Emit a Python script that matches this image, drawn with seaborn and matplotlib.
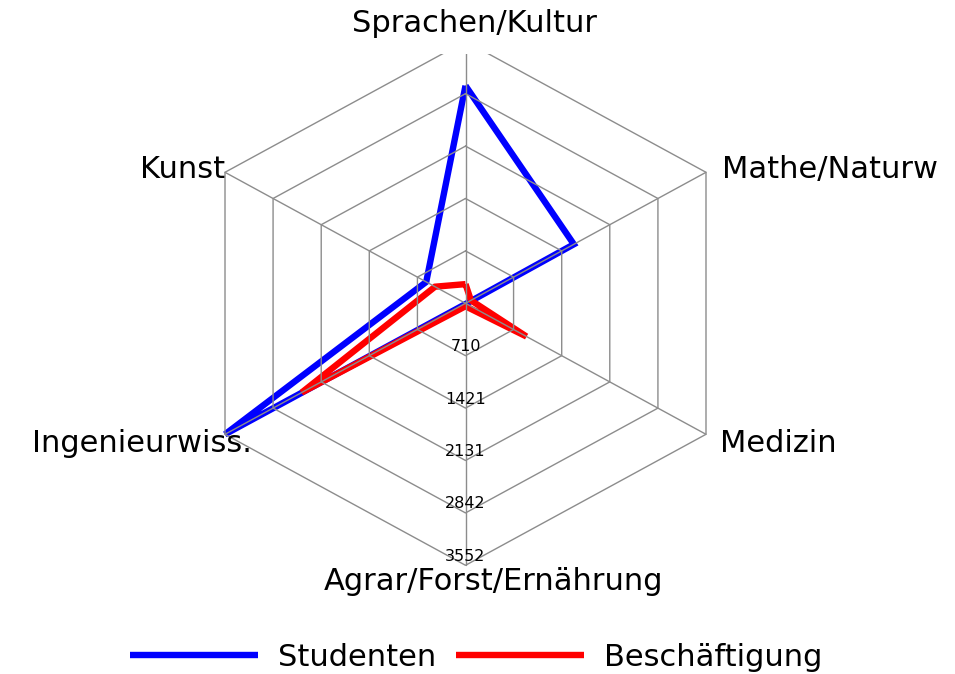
import numpy as np
import pandas as pd
import matplotlib
matplotlib.use("Agg")
import matplotlib.pyplot as plt
import seaborn as sns
from matplotlib.lines import Line2D

# ---- data ----
categories = ["Sprachen/Kultur", "Mathe/Naturw", "Medizin",
              "Agrar/Forst/Ernährung", "Ingenieurwiss.", "Kunst"]
studenten = [2950, 1600, 10, 10, 3552, 580]
beschaeftigung = [260, 80, 900, 40, 2420, 450]
series_names = ["Studenten", "Beschäftigung"]
tick_values = [710, 1421, 2131, 2842, 3552]
tick_labels = ["710", "1421", "2131", "2842", "3552"]

# ---- style ----
sns.set_theme(style="white")
plt.rcParams["font.family"] = ["DejaVu Sans"]
plt.rcParams["text.color"] = "black"

W, H = 955, 674
fig = plt.figure(figsize=(W / 100, H / 100), dpi=100)
ax = fig.add_axes([0, 0, 1, 1])
ax.set_axis_off()

# pixel geometry of the radar (center and scale)
cx, cy = 465.5, 303.3
rmax = tick_values[-1]
px_x = 277.7 / rmax   # px per value unit horizontally
px_y = 262.0 / rmax   # px per value unit vertically
ax.set_xlim(-cx / px_x, (W - cx) / px_x)
ax.set_ylim(-(H - cy) / px_y, cy / px_y)

n = len(categories)
angles = np.arange(n) * 2 * np.pi / n  # clockwise from top


def to_xy(vals):
    vals = np.asarray(vals, dtype=float)
    return vals * np.sin(angles), vals * np.cos(angles)


rows = []
for name, vals in zip(series_names, [studenten, beschaeftigung]):
    x, y = to_xy(vals)
    x = np.append(x, x[0])
    y = np.append(y, y[0])
    for i, (xx, yy) in enumerate(zip(x, y)):
        rows.append({"series": name, "order": i, "x": xx, "y": yy})
df = pd.DataFrame(rows)

sns.lineplot(data=df, x="x", y="y", hue="series", sort=False, estimator=None,
             palette={"Studenten": "#0000ff", "Beschäftigung": "#ff0000"},
             linewidth=4.6, ax=ax, legend=False, zorder=2)
for ln in ax.lines:
    ln.set_solid_joinstyle("miter")
    ln.set_solid_capstyle("butt")

# ---- grid ----
grid_col = "#8c8c8c"
for tv in tick_values:
    gx, gy = to_xy([tv] * n)
    ax.plot(np.append(gx, gx[0]), np.append(gy, gy[0]), color=grid_col,
            lw=1.0, zorder=3)
ox, oy = to_xy([rmax] * n)
for i in range(n):
    ax.plot([0, ox[i]], [0, oy[i]], color=grid_col, lw=1.0, zorder=3)

# tick labels along the bottom axis
for tv, tl in zip(tick_values, tick_labels):
    ax.annotate(tl, (0, -tv), xytext=(0, 6.5), textcoords="offset points",
                ha="center", va="center", fontsize=11.5, color="black",
                zorder=6)

# ---- category labels ----
fs = 22


def fig_xy(px, py):
    return px / W, 1 - py / H


lab_kw = dict(fontsize=fs, color="black", transform=fig.transFigure)
x0, y0 = fig_xy(474, 24)
fig.text(x0, y0, categories[0], ha="center", va="center", zorder=5,
         bbox=dict(boxstyle="square,pad=0.5", fc="white", ec="none"), **lab_kw)
x0, y0 = fig_xy(722, 170)
fig.text(x0, y0, categories[1], ha="left", va="center", **lab_kw)
x0, y0 = fig_xy(720, 444)
fig.text(x0, y0, categories[2], ha="left", va="center", **lab_kw)
x0, y0 = fig_xy(494, 581)
fig.text(x0, y0, categories[3], ha="center", va="center", **lab_kw)
x0, y0 = fig_xy(142, 444)
fig.text(x0, y0, categories[4], ha="center", va="center", **lab_kw)
x0, y0 = fig_xy(225, 170)
fig.text(x0, y0, categories[5], ha="right", va="center", **lab_kw)

# ---- legend ----
handles = [Line2D([], [], color="#0000ff", lw=4.6, solid_capstyle="butt"),
           Line2D([], [], color="#ff0000", lw=4.6, solid_capstyle="butt")]
lx, ly = fig_xy(476, 657)
leg = fig.legend(handles, series_names, loc="center", bbox_to_anchor=(lx, ly),
                 ncol=2, frameon=False, fontsize=fs, handlelength=4.2,
                 handletextpad=0.65, columnspacing=0.65, borderaxespad=0,
                 labelcolor="black")

fig.savefig("out.png", dpi=100, facecolor="white")
